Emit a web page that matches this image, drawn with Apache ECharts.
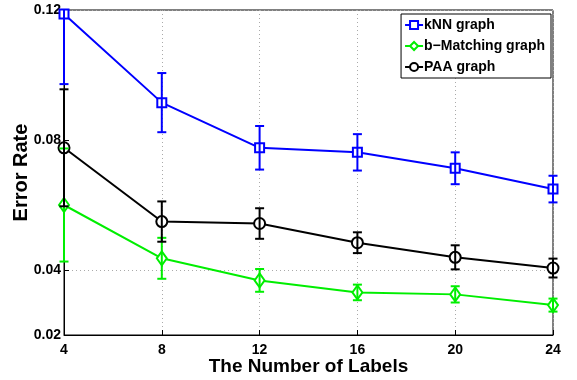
<!DOCTYPE html>
<html>
<head>
<meta charset="utf-8">
<script src="https://cdn.jsdelivr.net/npm/echarts@6/dist/echarts.min.js"></script>
<style>
  html, body { margin: 0; padding: 0; background: #fff; }
  #chart { width: 577px; height: 380px; }
</style>
</head>
<body>
<div id="chart"></div>
<script>
// number of labels
var labels = [4, 8, 12, 16, 20, 24];

// mean error rate + half-width of the error bar
var knnMean = [0.1188, 0.0915, 0.0776, 0.0762, 0.0713, 0.0649];
var knnErr  = [0.0216, 0.0091, 0.0067, 0.0056, 0.0049, 0.0041];
var bmMean  = [0.0600, 0.0436, 0.0368, 0.0331, 0.0325, 0.0292];
var bmErr   = [0.0174, 0.0063, 0.0035, 0.0024, 0.0025, 0.0020];
var paaMean = [0.0776, 0.0549, 0.0543, 0.0484, 0.0439, 0.0406];
var paaErr  = [0.0180, 0.0062, 0.0047, 0.0032, 0.0037, 0.0029];

var yTicks = [0.02, 0.04, 0.08, 0.12];

var FONT = '"Liberation Sans", Arial, Helvetica, sans-serif';

var chart = echarts.init(document.getElementById('chart'));

function pts(mean) {
  return labels.map(function (x, i) { return [x, mean[i]]; });
}
function errData(mean, err) {
  return labels.map(function (x, i) { return [x, mean[i] - err[i], mean[i] + err[i]]; });
}

function errorBars(name, color, mean, err) {
  return {
    name: name,
    type: 'custom',
    z: 5,
    data: errData(mean, err),
    renderItem: function (params, api) {
      var cs = params.coordSys;
      var lo = api.coord([api.value(0), api.value(1)]);
      var hi = api.coord([api.value(0), api.value(2)]);
      var top = cs.y, bot = cs.y + cs.height;
      var x = lo[0];
      var y1 = Math.min(Math.max(hi[1], top), bot);
      var y2 = Math.min(Math.max(lo[1], top), bot);
      var w = 4.5;
      var style = { stroke: color, lineWidth: 2, fill: null };
      var kids = [{ type: 'line', shape: { x1: x, y1: y1, x2: x, y2: y2 }, style: style }];
      if (hi[1] >= top) {
        kids.push({ type: 'line', shape: { x1: x - w, y1: hi[1], x2: x + w, y2: hi[1] }, style: style });
      }
      kids.push({ type: 'line', shape: { x1: x - w, y1: lo[1], x2: x + w, y2: lo[1] }, style: style });
      return { type: 'group', children: kids };
    }
  };
}

function lineSeries(name, color, mean, symbol, size) {
  return {
    name: name,
    type: 'line',
    data: pts(mean),
    symbol: symbol,
    symbolSize: size,
    showAllSymbol: true,
    lineStyle: { color: color, width: 2 },
    itemStyle: { color: color, borderWidth: 1.5 },
    z: 4
  };
}

var option = {
  backgroundColor: '#fff',
  animation: false,
  textStyle: { fontFamily: FONT },
  grid: {
    left: 64, right: 24, top: 10, bottom: 45,
    containLabel: false, outerBoundsMode: 'none',
    show: true, borderColor: '#000', borderWidth: 1
  },
  legend: {
    right: 26, top: 14,
    orient: 'vertical',
    backgroundColor: '#fff',
    borderColor: '#000',
    borderWidth: 1,
    borderRadius: 0,
    padding: [4, 6, 4, 3],
    itemGap: 7,
    itemWidth: 18,
    itemHeight: 10,
    textStyle: { fontFamily: FONT, fontWeight: 'bold', fontSize: 14, color: '#000', padding: [0, 0, 0, -4] },
    data: ['kNN graph', 'b−Matching graph', 'PAA graph']
  },
  xAxis: {
    type: 'value',
    min: 4, max: 24, interval: 4,
    name: 'The Number of Labels',
    nameLocation: 'middle',
    nameGap: 22,
    nameMoveOverlap: false,
    nameTextStyle: { fontFamily: FONT, fontWeight: 'bold', fontSize: 19, color: '#000' },
    axisLine: { lineStyle: { color: '#000', width: 1 } },
    axisTick: { inside: true, length: 5, lineStyle: { color: '#000' } },
    axisLabel: { fontFamily: FONT, fontWeight: 'bold', fontSize: 14, color: '#000', margin: 8 },
    splitLine: { show: true, lineStyle: { color: '#aaa', type: [1, 3], width: 1 } }
  },
  yAxis: {
    type: 'value',
    min: 0.02, max: 0.12, interval: 0.02,
    name: 'Error Rate',
    nameLocation: 'middle',
    nameGap: 33,
    nameMoveOverlap: false,
    nameTextStyle: { fontFamily: FONT, fontWeight: 'bold', fontSize: 20, color: '#000' },
    axisLine: { lineStyle: { color: '#000', width: 1 } },
    axisTick: { inside: true, length: 5, lineStyle: { color: '#000' }, customValues: yTicks },
    axisLabel: {
      fontFamily: FONT, fontWeight: 'bold', fontSize: 14, color: '#000', margin: 3,
      customValues: yTicks,
      formatter: function (v) { return v.toFixed(2); }
    },
    splitLine: {
      show: true,
      lineStyle: { color: ['none', '#aaa', 'none', '#aaa', 'none', 'none'], type: [1, 3], width: 1 }
    }
  },
  series: [
    lineSeries('kNN graph', '#0000ff', knnMean, 'emptyRect', 9),
    lineSeries('b−Matching graph', '#00ee00', bmMean, 'emptyDiamond', [10, 14]),
    lineSeries('PAA graph', '#000000', paaMean, 'emptyCircle', 11),
    errorBars('kNN graph', '#0000ff', knnMean, knnErr),
    errorBars('b−Matching graph', '#00ee00', bmMean, bmErr),
    errorBars('PAA graph', '#000000', paaMean, paaErr)
  ]
};

chart.setOption(option);
</script>
</body>
</html>
